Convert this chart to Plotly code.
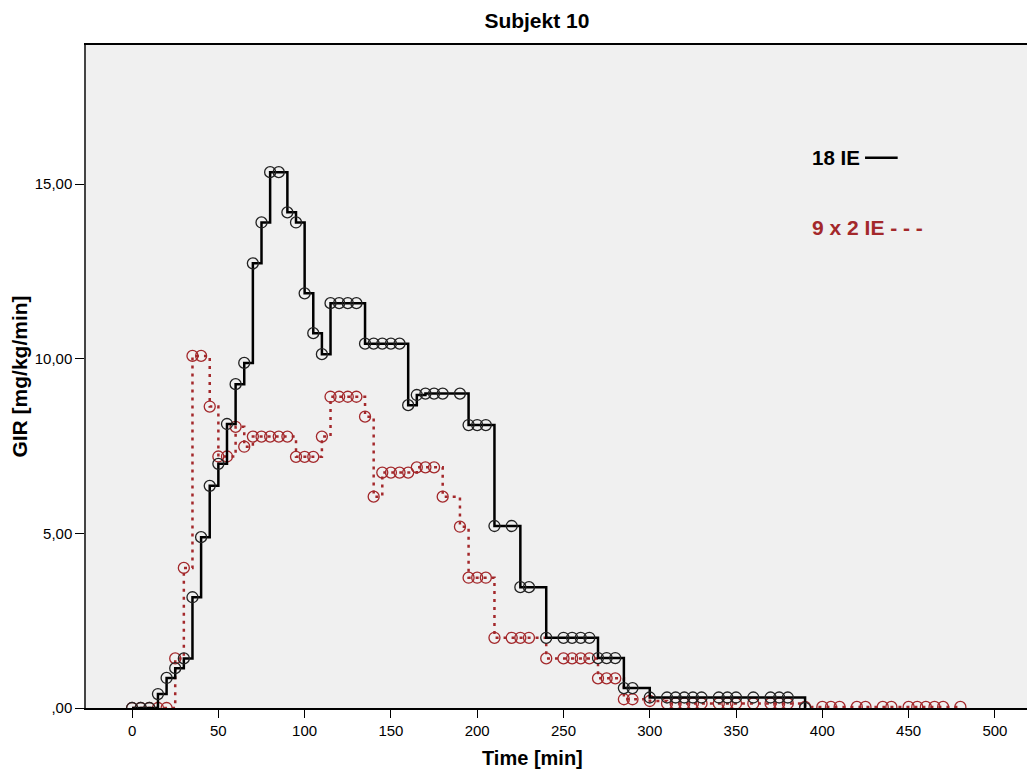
import plotly.graph_objects as go

title_text = "Subjekt 10"
x_title = "Time [min]"
y_title = "GIR [mg/kg/min]"

# Series "18 IE" (black, solid)
t_18 = [0, 5, 10, 15, 20, 25, 30, 35, 40, 45, 50, 55, 60, 65, 70, 75, 80, 85, 90, 95,
        100, 105, 110, 115, 120, 125, 130, 135, 140, 145, 150, 155, 160, 165, 170, 175,
        180, 190, 195, 200, 205, 210, 220, 225, 230, 240, 250, 255, 260, 265, 270, 275,
        280, 285, 290, 300, 310, 315, 320, 325, 330, 340, 345, 350, 360, 370, 375, 380, 390]
gir_18 = [0, 0, 0, 0.40, 0.86, 1.14, 1.42, 3.17, 4.89, 6.36, 6.99, 8.13, 9.27, 9.88, 12.73, 13.90,
          15.34, 15.34, 14.19, 13.90, 11.87, 10.73, 10.13, 11.59, 11.59, 11.59, 11.59, 10.43,
          10.43, 10.43, 10.43, 10.43, 8.67, 8.96, 9.00, 9.00, 9.00, 9.00, 8.10, 8.10, 8.10,
          5.21, 5.21, 3.46, 3.46, 2.01, 2.01, 2.01, 2.01, 2.01, 1.43, 1.43, 1.43, 0.57, 0.57,
          0.30, 0.30, 0.30, 0.30, 0.30, 0.30, 0.30, 0.30, 0.30, 0.30, 0.30, 0.30, 0.30, 0.0]

# Series "9 x 2 IE" (red, dotted)
t_9x2 = [0, 5, 10, 15, 20, 25, 30, 35, 40, 45, 50, 55, 60, 65, 70, 75, 80, 85, 90, 95,
         100, 105, 110, 115, 120, 125, 130, 135, 140, 145, 150, 155, 160, 165, 170, 175,
         180, 190, 195, 200, 205, 210, 220, 225, 230, 240, 250, 255, 260, 265, 270, 275,
         280, 285, 290, 300, 310, 315, 320, 325, 330, 340, 345, 350, 360, 370, 375, 380,
         390, 400, 405, 410, 420, 425, 435, 440, 450, 455, 460, 465, 470, 480]
gir_9x2 = [0, 0, 0, 0, 0, 1.42, 4.01, 10.08, 10.08, 8.63, 7.20, 7.20, 8.05, 7.48, 7.77, 7.77,
           7.77, 7.77, 7.77, 7.19, 7.19, 7.19, 7.77, 8.91, 8.91, 8.91, 8.91, 8.34, 6.05, 6.74,
           6.74, 6.74, 6.74, 6.89, 6.89, 6.89, 6.05, 5.19, 3.73, 3.73, 3.73, 2.01, 2.01, 2.01,
           2.01, 1.42, 1.42, 1.42, 1.42, 1.42, 0.85, 0.85, 0.85, 0.25, 0.25, 0.20, 0.13, 0.13,
           0.13, 0.13, 0.13, 0.13, 0.13, 0.13, 0.13, 0.13, 0.13, 0.13, 0.03, 0.03, 0.03, 0.03,
           0.03, 0.03, 0.03, 0.03, 0.03, 0.03, 0.03, 0.03, 0.03, 0.03]

x_ticks = [0, 50, 100, 150, 200, 250, 300, 350, 400, 450, 500]
y_ticks = [0, 5, 10, 15]
y_tick_labels = [",00", "5,00", "10,00", "15,00"]

black = "#000000"
red = "#a3282b"
font = "Liberation Sans, Arial, sans-serif"

fig = go.Figure()
fig.add_trace(go.Scatter(
    x=t_9x2, y=gir_9x2, mode="lines+markers", line_shape="hv",
    line=dict(color=red, width=2.5, dash="3px,5px"),
    marker=dict(symbol="circle-open", size=11, color=red, line=dict(width=1.3)),
    showlegend=False,
))
fig.add_trace(go.Scatter(
    x=t_18, y=gir_18, mode="lines+markers", line_shape="hv",
    line=dict(color=black, width=2.5),
    marker=dict(symbol="circle-open", size=11, color="#222222", line=dict(width=1.3)),
    showlegend=False,
))

# The page body has an 8px margin, so the figure is sized and offset to compensate.
fig.update_layout(
    width=1027, height=764,
    margin=dict(l=78, r=3, t=37, b=64, autoexpand=False),
    paper_bgcolor="white",
    plot_bgcolor="#f0f0f0",
    font=dict(family=font, size=15, color="black"),
    title=dict(text="<b>" + title_text + "</b>", x=0.515, xanchor="center",
               y=0.984, yanchor="middle", font=dict(size=21, family=font)),
    xaxis=dict(range=[-26.7, 521.5], tickvals=x_ticks, ticks="outside", ticklen=8,
               tickcolor="black", showgrid=False, zeroline=False, showline=True,
               linecolor="black", linewidth=1.5, mirror=True, automargin=False,
               tickfont=dict(size=15)),
    yaxis=dict(range=[0, 18.98], tickvals=y_ticks, ticktext=y_tick_labels, ticks="outside",
               ticklen=9, tickcolor="black", showgrid=False, zeroline=False, showline=True,
               linecolor="#444444", linewidth=1.5, mirror=True, automargin=False,
               title=dict(text="<b>" + y_title + "</b>", font=dict(size=21), standoff=1),
               tickfont=dict(size=15)),
)

# x-axis title (placed left of centre, as in the original)
fig.add_annotation(x=0.4725, y=-0.0754, xref="paper", yref="paper",
                   text="<b>" + x_title + "</b>", showarrow=False, xanchor="center",
                   yanchor="middle", font=dict(size=20, color=black))

fig.add_annotation(x=0.765, y=0.83, xref="paper", yref="paper",
                   text="<b>18 IE</b>", showarrow=False, xanchor="left", yanchor="middle",
                   font=dict(size=20.5, color=black))
fig.add_shape(type="line", xref="paper", yref="paper", x0=0.8235, x1=0.858, y0=0.83, y1=0.83,
              line=dict(color=black, width=2.5))
fig.add_annotation(x=0.765, y=0.724, xref="paper", yref="paper",
                   text="<b>9 x 2 IE - - -</b>", showarrow=False, xanchor="left", yanchor="middle",
                   font=dict(size=21, color=red))

fig.write_html("out.html")
